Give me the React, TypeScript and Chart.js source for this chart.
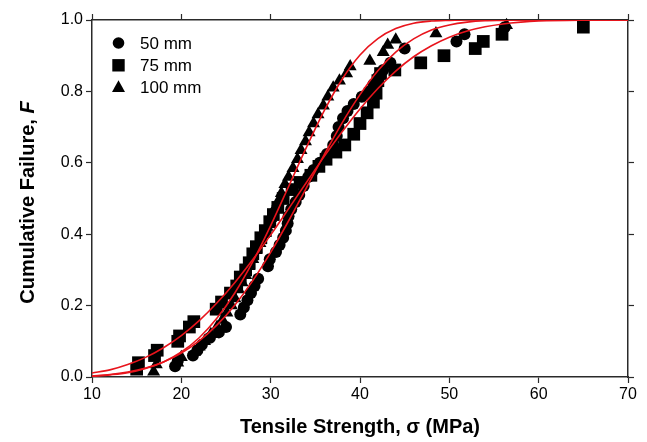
import React, { useEffect, useRef } from 'react';
import { Chart, registerables } from 'chart.js';

Chart.register(...registerables);

// ---------- data ----------
const SERIES_LABELS = ['50 mm', '75 mm', '100 mm'];

const CIRCLE_X = [19.3, 19.6, 21.3, 21.8, 22.3, 23.2, 24.2, 25.0, 26.6, 27.0, 27.4, 27.8, 28.2, 28.6, 29.7, 29.9, 30.6, 31.0, 31.4, 31.7, 31.9, 32.0, 32.3, 32.8, 33.2, 33.7, 34.2, 34.8, 35.5, 36.3, 37.0, 37.4, 37.6, 38.1, 38.6, 39.3, 40.2, 41.0, 41.5, 42.0, 42.6, 43.4, 45.0, 50.8, 51.7, 56.2];
const CIRCLE_F = [0.03, 0.045, 0.06, 0.075, 0.09, 0.11, 0.125, 0.14, 0.175, 0.195, 0.215, 0.235, 0.255, 0.275, 0.31, 0.33, 0.35, 0.37, 0.39, 0.41, 0.43, 0.45, 0.47, 0.49, 0.51, 0.535, 0.56, 0.58, 0.60, 0.625, 0.65, 0.675, 0.70, 0.725, 0.745, 0.765, 0.785, 0.80, 0.82, 0.84, 0.86, 0.88, 0.92, 0.94, 0.96, 0.98];

const SQUARE_X = [15.0, 15.2, 17.0, 17.3, 19.6, 19.8, 20.9, 21.4, 23.9, 24.5, 25.5, 26.2, 26.6, 27.2, 27.6, 28.0, 28.4, 28.9, 29.4, 29.9, 30.3, 30.8, 31.4, 32.4, 33.3, 34.5, 35.4, 36.2, 37.3, 38.3, 39.3, 40.0, 40.8, 41.5, 41.8, 42.0, 42.3, 43.9, 46.8, 49.4, 52.9, 53.8, 55.9, 65.0];
const SQUARE_F = [0.022, 0.04, 0.06, 0.075, 0.10, 0.115, 0.14, 0.155, 0.19, 0.21, 0.235, 0.255, 0.28, 0.30, 0.32, 0.345, 0.365, 0.39, 0.41, 0.435, 0.455, 0.475, 0.50, 0.525, 0.545, 0.565, 0.59, 0.61, 0.63, 0.65, 0.68, 0.71, 0.74, 0.77, 0.795, 0.83, 0.85, 0.86, 0.88, 0.90, 0.92, 0.94, 0.96, 0.98];

const TRIANGLE_X = [16.9, 17.2, 19.6, 20.0, 21.5, 22.0, 22.6, 23.3, 24.0, 24.6, 25.1, 25.6, 26.0, 26.4, 26.8, 27.2, 27.6, 28.0, 28.4, 28.8, 29.2, 29.6, 30.0, 30.4, 30.8, 31.2, 31.6, 32.0, 32.5, 33.0, 33.4, 33.9, 34.3, 34.8, 35.3, 35.9, 36.4, 37.0, 37.7, 38.5, 38.9, 41.1, 42.6, 43.1, 44.0, 48.5, 56.4];
const TRIANGLE_F = [0.015, 0.035, 0.04, 0.055, 0.07, 0.085, 0.10, 0.12, 0.14, 0.16, 0.18, 0.20, 0.22, 0.245, 0.265, 0.285, 0.31, 0.33, 0.355, 0.375, 0.40, 0.42, 0.445, 0.47, 0.49, 0.515, 0.54, 0.56, 0.585, 0.61, 0.635, 0.66, 0.685, 0.71, 0.735, 0.76, 0.785, 0.81, 0.83, 0.85, 0.87, 0.885, 0.91, 0.93, 0.945, 0.962, 0.985];

// fitted curves
const CURVE_X = [10, 12, 14, 16, 18, 20, 22, 24, 26, 28, 30, 32, 34, 36, 38, 40, 42, 44, 46, 48, 50, 52, 54, 56, 58, 60, 65, 70];
const CURVE_100 = [0.002, 0.006, 0.012, 0.024, 0.042, 0.070, 0.110, 0.165, 0.236, 0.323, 0.424, 0.533, 0.643, 0.746, 0.834, 0.902, 0.948, 0.976, 0.991, 0.997, 0.999, 1, 1, 1, 1, 1, 1, 1];
const CURVE_50 = [0.003, 0.007, 0.014, 0.025, 0.042, 0.067, 0.101, 0.146, 0.202, 0.270, 0.349, 0.437, 0.530, 0.623, 0.712, 0.791, 0.858, 0.910, 0.947, 0.972, 0.986, 0.994, 0.998, 0.999, 1, 1, 1, 1];
const CURVE_75 = [0.011, 0.020, 0.035, 0.055, 0.082, 0.116, 0.158, 0.208, 0.265, 0.329, 0.398, 0.471, 0.545, 0.618, 0.687, 0.751, 0.808, 0.857, 0.897, 0.928, 0.952, 0.969, 0.981, 0.989, 0.994, 0.997, 0.9995, 1];

const X_TITLE = 'Tensile Strength, \u03c3 (MPa)';
const Y_TITLE_MAIN = 'Cumulative Failure, ';
const Y_TITLE_VAR = 'F';

const FONT = '"Liberation Sans", Arial, Helvetica, sans-serif';
const AXIS_COLOR = '#2a2a2a';
const RED = '#e8141c';

const pts = (xs: number[], ys: number[]) => xs.map((x, i) => ({ x, y: ys[i] }));

function drawMarker(ctx: CanvasRenderingContext2D, style: string, x: number, y: number) {
  ctx.beginPath();
  if (style === 'circle') {
    ctx.arc(x, y, 5.8, 0, Math.PI * 2);
  } else if (style === 'rect') {
    ctx.rect(x - 6.2, y - 6.2, 12.4, 12.4);
  } else {
    ctx.moveTo(x, y - 7.3);
    ctx.lineTo(x + 6.5, y + 4.4);
    ctx.lineTo(x - 6.5, y + 4.4);
    ctx.closePath();
  }
  ctx.fill();
}

const decorPlugin = {
  id: 'decor',
  afterDraw(chart: any) {
    const ctx: CanvasRenderingContext2D = chart.ctx;
    const { left, right, top, bottom } = chart.chartArea;
    ctx.save();
    ctx.fillStyle = '#000';
    // x title
    ctx.font = `bold 20px ${FONT}`;
    ctx.textAlign = 'center';
    ctx.textBaseline = 'middle';
    ctx.fillText(X_TITLE, (left + right) / 2, 427);
    // y title (with italic F)
    ctx.save();
    ctx.translate(28, (top + bottom) / 2 + 4);
    ctx.rotate(-Math.PI / 2);
    ctx.font = `bold 20px ${FONT}`;
    const w1 = ctx.measureText(Y_TITLE_MAIN).width;
    ctx.font = `italic bold 20px ${FONT}`;
    const w2 = ctx.measureText(Y_TITLE_VAR).width;
    const start = -(w1 + w2) / 2;
    ctx.textAlign = 'left';
    ctx.font = `bold 20px ${FONT}`;
    ctx.fillText(Y_TITLE_MAIN, start, 0);
    ctx.font = `italic bold 20px ${FONT}`;
    ctx.fillText(Y_TITLE_VAR, start + w1, 0);
    ctx.restore();
    // legend
    const styles = ['circle', 'rect', 'triangle'];
    ctx.font = `17px ${FONT}`;
    ctx.textAlign = 'left';
    ctx.textBaseline = 'middle';
    SERIES_LABELS.forEach((lab, i) => {
      const y = 43 + i * 22.3;
      drawMarker(ctx, styles[i], 118.5, y);
      ctx.fillText(lab, 140, y + 1);
    });
    ctx.restore();
  },
};

export default function App() {
  const canvasRef = useRef<HTMLCanvasElement | null>(null);

  useEffect(() => {
    if (!canvasRef.current) return;
    const curveDs = (data: number[]) => ({
      type: 'line' as const,
      data: pts(CURVE_X, data),
      borderColor: RED,
      borderWidth: 1.6,
      pointRadius: 0,
      showLine: true,
      fill: false,
      cubicInterpolationMode: 'monotone' as const,
      order: 0,
    });
    const pointDs = (label: string, xs: number[], ys: number[], style: string, r: number) => ({
      type: 'scatter' as const,
      label,
      data: pts(xs, ys),
      pointStyle: style,
      pointRadius: r,
      pointHoverRadius: r,
      pointBackgroundColor: '#000',
      pointBorderColor: '#000',
      pointBorderWidth: 0,
      showLine: false,
      clip: false,
      order: 1,
    });
    const tickCommon = {
      drawOnChartArea: false,
      drawTicks: true,
      tickLength: 6,
      tickColor: AXIS_COLOR,
      tickWidth: 1.2,
    };
    const chart = new Chart(canvasRef.current, {
      type: 'scatter',
      data: {
        datasets: [
          curveDs(CURVE_100),
          curveDs(CURVE_50),
          curveDs(CURVE_75),
          pointDs(SERIES_LABELS[0], CIRCLE_X, CIRCLE_F, 'circle', 6),
          pointDs(SERIES_LABELS[1], SQUARE_X, SQUARE_F, 'rect', 9),
          pointDs(SERIES_LABELS[2], TRIANGLE_X, TRIANGLE_F, 'triangle', 7.5),
        ] as any,
      },
      options: {
        animation: false,
        responsive: false,
        maintainAspectRatio: false,
        layout: { padding: 0 },
        plugins: { legend: { display: false }, tooltip: { enabled: false } },
        scales: {
          x: {
            type: 'linear',
            position: 'bottom',
            min: 10,
            max: 70,
            ticks: { stepSize: 10, color: '#000', font: { family: FONT, size: 16 }, padding: 2, maxRotation: 0 },
            grid: tickCommon,
            border: { display: true, color: AXIS_COLOR, width: 1.5 },
            afterFit: (s: any) => { s.height = 65; },
          },
          y: {
            type: 'linear',
            position: 'left',
            min: 0,
            max: 1,
            ticks: { stepSize: 0.2, color: '#000', font: { family: FONT, size: 16 }, padding: 3, callback: (v: any) => Number(v).toFixed(1) },
            grid: tickCommon,
            border: { display: true, color: AXIS_COLOR, width: 1.5 },
            afterFit: (s: any) => { s.width = 92; },
          },
          x2: {
            type: 'linear',
            position: 'top',
            min: 10,
            max: 70,
            ticks: { display: false, stepSize: 10 },
            grid: tickCommon,
            border: { display: true, color: AXIS_COLOR, width: 1.5 },
            afterFit: (s: any) => { s.height = 20; },
          },
          y2: {
            type: 'linear',
            position: 'right',
            min: 0,
            max: 1,
            ticks: { display: false, stepSize: 0.2 },
            grid: tickCommon,
            border: { display: true, color: AXIS_COLOR, width: 1.5 },
            afterFit: (s: any) => { s.width = 19; },
          },
        },
      } as any,
      plugins: [decorPlugin],
    });
    return () => chart.destroy();
  }, []);

  return (
    <div style={{ position: 'fixed', left: 0, top: 0, width: 647, height: 442, background: '#fff' }}>
      <canvas ref={canvasRef} width={647} height={442} style={{ width: 647, height: 442, display: 'block' }} />
    </div>
  );
}
